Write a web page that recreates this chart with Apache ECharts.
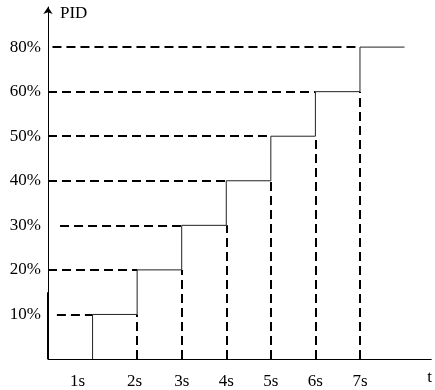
<!DOCTYPE html>
<html>
<head>
<meta charset="utf-8">
<script src="https://cdn.jsdelivr.net/npm/echarts@6/dist/echarts.min.js"></script>
<style>
  html, body { margin: 0; padding: 0; background: #fff; }
  #chart { width: 435px; height: 390px; }
</style>
</head>
<body>
<div id="chart"></div>
<script>
  // step times (s) and the level index reached at each step
  var stepTimes = [1, 2, 3, 4, 5, 6, 7];
  var stepLevels = [1, 2, 3, 4, 5, 6, 7];
  var endTime = 8;
  // where each dashed guide starts on the time axis
  var guideStart = [0.2, 0, 0.27, 0, 0, 0, 0.1];
  var xLabels = ['', '1s', '2s', '3s', '4s', '5s', '6s', '7s', ''];
  var yLabels = ['', '10%', '20%', '30%', '40%', '50%', '60%', '80%'];

  var font = "'Liberation Serif', 'Times New Roman', serif";

  // solid step curve
  var stepData = [[stepTimes[0], 0]];
  for (var i = 0; i < stepTimes.length; i++) {
    stepData.push([stepTimes[i], stepLevels[i]]);
    var next = i + 1 < stepTimes.length ? stepTimes[i + 1] : endTime;
    stepData.push([next, stepLevels[i]]);
  }

  // dashed guides: horizontal to the y axis, vertical down to the t axis
  var guides = [];
  for (var j = 0; j < stepTimes.length; j++) {
    guides.push({ coords: [[guideStart[j], stepLevels[j]], [stepTimes[j], stepLevels[j]]] });
    if (j > 0) {
      guides.push({ coords: [[stepTimes[j], 0], [stepTimes[j], stepLevels[j - 1]]] });
    }
  }

  var myChart = echarts.init(document.getElementById('chart'));
  var option = {
    animation: false,
    grid: { left: 48, right: 3, top: 7, bottom: 31 },
    xAxis: {
      type: 'value',
      min: 0,
      max: 8.6,
      interval: 1,
      name: 't',
      nameLocation: 'end',
      nameGap: -4,
      nameTextStyle: { fontFamily: font, fontSize: 17, color: '#000', verticalAlign: 'top', padding: [10, 0, 0, 0] },
      axisLine: { lineStyle: { color: '#000', width: 1 } },
      axisTick: { show: false },
      splitLine: { show: false },
      axisLabel: {
        fontFamily: font, fontSize: 17, color: '#000', margin: 14,
        formatter: function (v) {
          var s = xLabels[v] || '';
          if (v === 1) return '{first|' + s + '}';
          if (v === 2) return '{second|' + s + '}';
          return s;
        },
        rich: {
          first: { fontFamily: font, fontSize: 17, color: '#000', padding: [0, 30, 0, 0] },
          second: { fontFamily: font, fontSize: 17, color: '#000', padding: [0, 5, 0, 0] }
        }
      }
    },
    yAxis: {
      type: 'value',
      min: 0,
      max: 7.9,
      interval: 1,
      name: 'PID',
      nameLocation: 'end',
      nameGap: -7,
      nameTextStyle: { fontFamily: font, fontSize: 17, color: '#000', align: 'left', verticalAlign: 'middle', padding: [0, 0, 0, 12] },
      axisLine: { lineStyle: { color: '#000', width: 1 }, symbol: ['none', 'arrow'], symbolSize: [7, 7] },
      axisTick: { show: false },
      splitLine: { show: false },
      axisLabel: {
        fontFamily: font, fontSize: 17, color: '#000', margin: 7,
        formatter: function (v) { return yLabels[v] || ''; }
      }
    },
    series: [
      {
        type: 'lines',
        coordinateSystem: 'cartesian2d',
        polyline: false,
        lineStyle: { color: '#000', width: 2, type: [9, 5], opacity: 1 },
        data: guides,
        z: 2
      },
      {
        type: 'lines',
        coordinateSystem: 'cartesian2d',
        lineStyle: { color: '#000', width: 2, opacity: 1 },
        data: [{ coords: [[0, 0], [0, 1.5]] }],
        z: 2
      },
      {
        type: 'line',
        data: stepData,
        symbol: 'none',
        lineStyle: { color: '#222', width: 1 },
        z: 3
      }
    ]
  };
  myChart.setOption(option);
</script>
</body>
</html>
